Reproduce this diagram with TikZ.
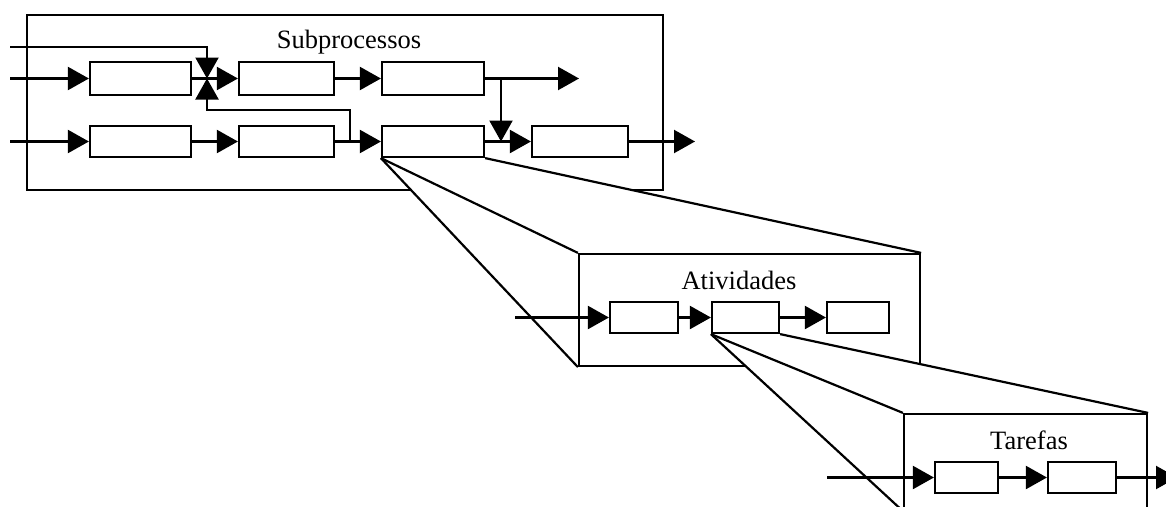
\documentclass[tikz,border=0pt]{standalone}
\usepackage{fontspec}
\setmainfont{Liberation Serif}
\usetikzlibrary{arrows.meta}
\begin{document}
\begin{tikzpicture}[x=1pt,y=-1pt,
  line width=2.2pt,
  box/.style={draw, line width=2.2pt, inner sep=0pt, fill=white},
  frame/.style={draw, line width=2.2pt, inner sep=0pt},
  flow/.style={-{Triangle[length=21pt,width=23pt]}, line width=2.2pt},
  title/.style={anchor=base, inner sep=0pt, font=\fontsize{26.5}{30}\selectfont},
  cone/.style={line width=2.2pt}
]
\useasboundingbox (0,0) rectangle (1166,506);

% ---------- Subprocessos ----------
\node[frame, minimum width=636pt, minimum height=175pt] (SP) at (345,102.5) {};
\node[title] (tSP) at (349,48) {Subprocessos};

\node[box, minimum width=101pt, minimum height=33pt] (A) at (140.5,78.5) {};
\node[box, minimum width=95pt,  minimum height=33pt] (B) at (286.5,78.5) {};
\node[box, minimum width=102pt, minimum height=33pt] (C) at (433,78.5) {};
\node[box, minimum width=101pt, minimum height=31pt] (D) at (140.5,141.5) {};
\node[box, minimum width=95pt,  minimum height=31pt] (E) at (286.5,141.5) {};
\node[box, minimum width=102pt, minimum height=31pt] (F) at (433,141.5) {};
\node[box, minimum width=96pt,  minimum height=31pt] (G) at (580,141.5) {};

\coordinate (inTop) at (10,47);
\coordinate (inA) at (10,78.5);
\coordinate (inD) at (10,141.5);
\coordinate (j) at (207,78.5);
\coordinate (l1) at (350,141.5);
\coordinate (l2) at (350,110);
\coordinate (br) at (501,78.5);
\coordinate (mg) at (501,141.5);
\coordinate (outC) at (579,78.5);
\coordinate (outG) at (695,141.5);

\draw[flow] (inA) -- (A.west);
\draw[flow] (inD) -- (D.west);
\draw[flow] (inTop) -| (j);
\draw[flow] (l1) -- (l2) -| (j);
\draw[flow] (A.east) -- (B.west);
\draw[flow] (B.east) -- (C.west);
\draw[flow] (C.east) -- (outC);
\draw[flow] (br) -- (mg);
\draw[flow] (D.east) -- (E.west);
\draw[flow] (E.east) -- (F.west);
\draw[flow] (F.east) -- (G.west);
\draw[flow] (G.east) -- (outG);

% ---------- Atividades ----------
\node[frame, minimum width=341pt, minimum height=112pt] (AT) at (749.5,310) {};

\fill[white] (F.south west) -- (AT.south west) -- (AT.north west) -- (AT.north east) -- (F.south east) -- cycle;
\draw[cone] (F.south west) -- (AT.south west);
\draw[cone] (F.south west) -- (AT.north west);
\draw[cone] (F.south east) -- (AT.north east);
\node[frame, minimum width=341pt, minimum height=112pt] at (749.5,310) {};

\node[title] (tAT) at (739,289) {Atividades};
\node[box, minimum width=68pt, minimum height=31pt] (H) at (644,317.5) {};
\node[box, minimum width=67pt, minimum height=31pt] (I) at (745.5,317.5) {};
\node[box, minimum width=62pt, minimum height=31pt] (J) at (858,317.5) {};
\coordinate (inH) at (515,317.5);
\draw[flow] (inH) -- (H.west);
\draw[flow] (H.east) -- (I.west);
\draw[flow] (I.east) -- (J.west);

% ---------- Tarefas ----------
\node[frame, minimum width=243pt, minimum height=96pt] (TA) at (1025.5,462) {};

\fill[white] (I.south west) -- (TA.south west) -- (TA.north west) -- (TA.north east) -- (I.south east) -- cycle;
\draw[cone] (I.south west) -- (TA.south west);
\draw[cone] (I.south west) -- (TA.north west);
\draw[cone] (I.south east) -- (TA.north east);
\node[frame, minimum width=243pt, minimum height=96pt] at (1025.5,462) {};

\node[title] (tTA) at (1029,449) {Tarefas};
\node[box, minimum width=63pt, minimum height=31pt] (K) at (966.5,477.5) {};
\node[box, minimum width=68pt, minimum height=31pt] (L) at (1082,477.5) {};
\coordinate (inK) at (827,477.5);
\coordinate (outL) at (1177,477.5);
\draw[flow] (inK) -- (K.west);
\draw[flow] (K.east) -- (L.west);
\draw[flow] (L.east) -- (outL);
\end{tikzpicture}
\end{document}
